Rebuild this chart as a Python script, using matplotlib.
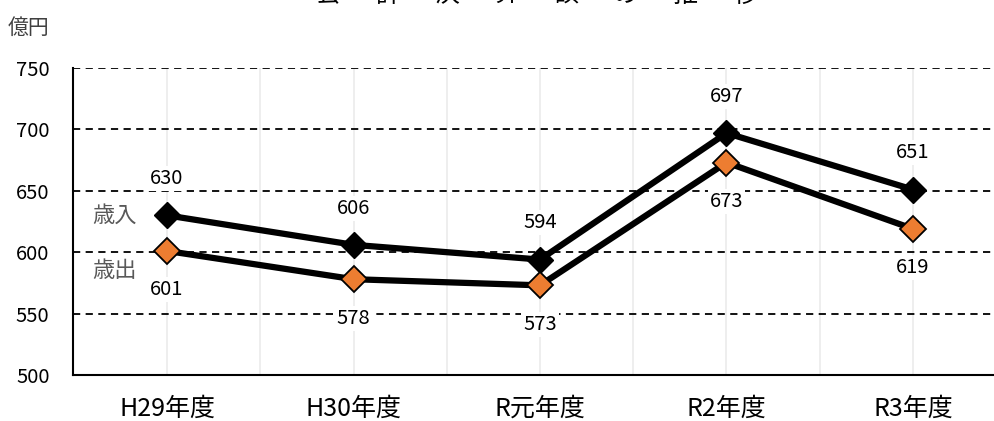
import matplotlib
matplotlib.use("Agg")
import matplotlib.pyplot as plt
import numpy as np

plt.rcParams['font.family'] = ['Noto Sans CJK JP', 'DejaVu Sans']

categories = ["H29年度", "H30年度", "R元年度", "R2年度", "R3年度"]
revenue = [630, 606, 594, 697, 651]      # 歳入
expenditure = [601, 578, 573, 673, 619]  # 歳出
yticks = [500, 550, 600, 650, 700, 750]
title_chars = list("会計決算額の推移")

fig = plt.figure(figsize=(9.95, 4.21), dpi=100)
ax = fig.add_axes([0.0734, 0.1093, 0.9266, 0.7292])

x = np.arange(len(categories))

# light vertical gridlines at every half category
for v in np.arange(0, len(categories), 0.5):
    ax.axvline(v, color="#ebebeb", lw=1.2, zorder=0)

for yv in yticks[1:]:
    ax.axhline(yv, color="black", lw=1.3, ls=(0, (4, 3)), zorder=1)

ax.plot(x, revenue, color="black", lw=4.5, marker="D", ms=13.5,
        mfc="black", mec="black", zorder=3)
ax.plot(x, expenditure, color="black", lw=4.5, marker="D", ms=13.5,
        mfc="#ED7D31", mec="black", mew=1.3, zorder=3)

bbox = dict(facecolor="white", edgecolor="none", pad=1.5)
for xi, v in zip(x, revenue):
    ax.annotate(str(v), (xi, v), xytext=(0, 26.5), textcoords="offset points",
                ha="center", va="center", fontsize=14.5, bbox=bbox, zorder=2)
for xi, v in zip(x, expenditure):
    ax.annotate(str(v), (xi, v), xytext=(0, -28), textcoords="offset points",
                ha="center", va="center", fontsize=14.5, bbox=bbox, zorder=2)

ax.text(-0.28, revenue[0], "歳入", ha="center", va="center",
        fontsize=16, color="#595959")
ax.text(-0.28, expenditure[0] - 16, "歳出", ha="center", va="center",
        fontsize=16, color="#595959")

ax.set_xlim(-0.504, 4.44)
ax.set_ylim(500, 750)
ax.set_yticks(yticks)
ax.set_xticks(x)
ax.set_xticklabels(categories, fontsize=18)
ax.tick_params(axis="y", labelsize=14.5, length=0, pad=17)
ax.tick_params(axis="x", length=0, pad=15)

for s in ["top", "right"]:
    ax.spines[s].set_visible(False)
ax.spines["left"].set_linewidth(1.5)
ax.spines["bottom"].set_linewidth(1.5)

fig.text(8 / 995, 1 - 28 / 421, "億円", ha="left", va="center", fontsize=15,
         color="#404040")

for i, ch in enumerate(title_chars):
    fig.text((328 + i * 59.5) / 995, 1 + 5 / 421, ch, ha="center",
             va="center", fontsize=18, color="black")

fig.savefig("out.png", dpi=100)
